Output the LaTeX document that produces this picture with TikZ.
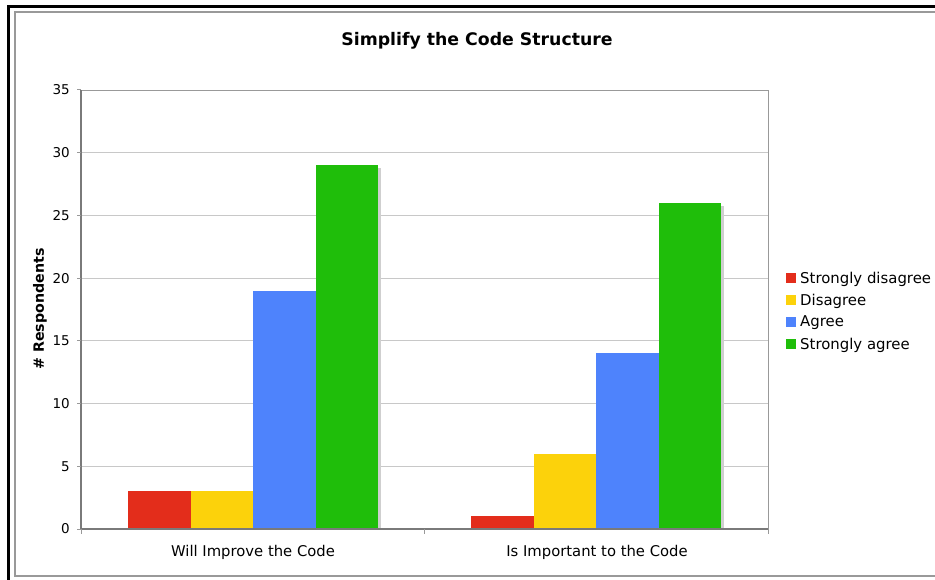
\documentclass[tikz,border=0pt]{standalone}
\usepackage{fontspec}
\setmainfont{DejaVu Sans}
\definecolor{cred}{HTML}{E32D1B}
\definecolor{cyel}{HTML}{FCD20B}
\definecolor{cblu}{HTML}{4E83FC}
\definecolor{cgrn}{HTML}{1FBE0A}
\definecolor{cgrid}{HTML}{C8C8C8}
\definecolor{caxis}{HTML}{999999}
\definecolor{cshadow}{HTML}{CFCFCF}
\tikzset{
  ticklab/.style={anchor=east, inner sep=0pt, font=\fontsize{13.5}{13.5}\selectfont},
  catlab/.style={anchor=center, inner sep=0pt, font=\fontsize{14.8}{14.8}\selectfont},
  leglab/.style={anchor=west, inner sep=0pt, font=\fontsize{14.9}{14.9}\selectfont},
  legbox/.style={minimum size=10pt, inner sep=0pt},
}
\newcommand{\ypos}[1]{529-#1*12.543}
\begin{document}
\begin{tikzpicture}[x=1pt,y=-1pt]
\useasboundingbox (0,0) rectangle (935,579);
\clip (0,0) rectangle (935,579);
\fill[white] (0,0) rectangle (935,579);
% frames
\draw[line width=3pt] (8.5,600) -- (8.5,6) -- (960,6);
\draw[caxis, line width=1.2pt] (15,12) rectangle (960,576);
% grid
\foreach \v in {5,10,...,30} {
  \draw[cgrid, line width=1pt] (81,{\ypos{\v}}) -- (768,{\ypos{\v}});
}
% bars with shadow
\foreach \x/\v/\c in {128/3/cred,190.5/3/cyel,253/19/cblu,315.5/29/cgrn,
                      471/1/cred,533.5/6/cyel,596/14/cblu,658.5/26/cgrn} {
  \fill[cshadow] (\x+3,{\ypos{\v}+3}) rectangle (\x+65.5,529);
}
\foreach \x/\v/\c in {128/3/cred,190.5/3/cyel,253/19/cblu,315.5/29/cgrn,
                      471/1/cred,533.5/6/cyel,596/14/cblu,658.5/26/cgrn} {
  \fill[\c] (\x,{\ypos{\v}}) rectangle (\x+62.5,529);
}
% plot frame
\draw[caxis, line width=1pt] (81,90) -- (768,90) -- (768,529);
\draw[caxis!80!black, line width=1.4pt] (81,90) -- (81,529) -- (768,529);
% ticks
\foreach \v in {0,5,...,35} {
  \draw[caxis, line width=1pt] (77,{\ypos{\v}}) -- (81,{\ypos{\v}});
  \node[ticklab] (t\v) at (70,{\ypos{\v}}) {\v};
}
\foreach \x in {81,424.5,768} {
  \draw[caxis, line width=1pt] (\x,529) -- (\x,534);
}
% labels
\node[font=\bfseries\fontsize{17.3}{17.3}\selectfont, inner sep=0pt] (title) at (477,41) {Simplify the Code Structure};
\node[font=\bfseries\fontsize{14.2}{14.2}\selectfont, rotate=90, inner sep=0pt] (ylab) at (40,309) {\# Respondents};
\node[catlab] (c1) at (253,552) {Will Improve the Code};
\node[catlab] (c2) at (597,552) {Is Important to the Code};
% legend
\foreach \i/\c/\t in {0/cred/Strongly disagree,1/cyel/Disagree,2/cblu/Agree,3/cgrn/Strongly agree} {
  \node[legbox, fill=\c] (lb\i) at (791,{278+\i*22}) {};
  \node[leglab] (ll\i) at (800,{279+\i*22}) {\t};
}
\end{tikzpicture}
\end{document}
